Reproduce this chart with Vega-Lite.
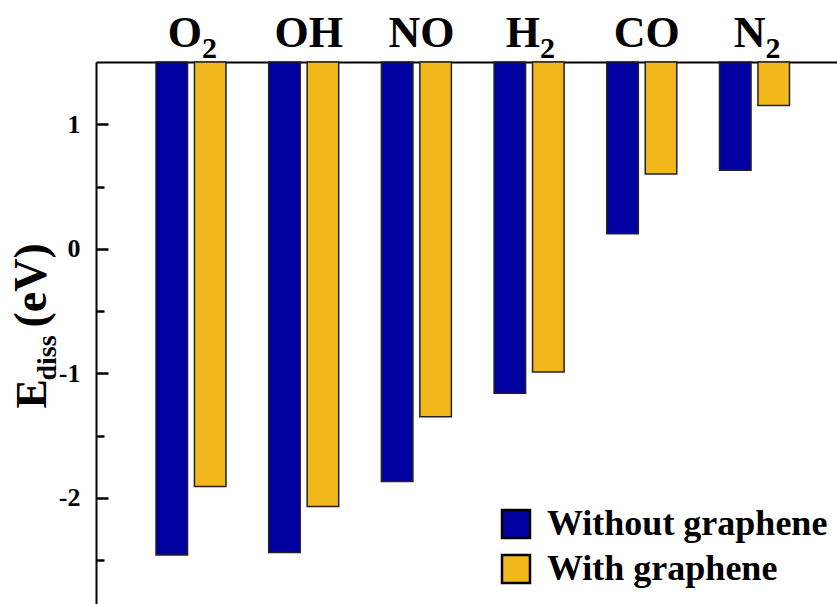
{
  "$schema": "https://vega.github.io/schema/vega-lite/v6.json",
  "width": 741,
  "height": 542,
  "autosize": {"type": "none"},
  "padding": {"left": 96, "top": 62, "right": 0, "bottom": 0},
  "background": "white",
  "config": {"view": {"stroke": null}, "font": "Liberation Serif"},
  "data": {
    "values": [
      {"molecule": "O₂", "condition": "Without graphene", "ediss": -2.46},
      {"molecule": "O₂", "condition": "With graphene", "ediss": -1.91},
      {"molecule": "OH", "condition": "Without graphene", "ediss": -2.44},
      {"molecule": "OH", "condition": "With graphene", "ediss": -2.07},
      {"molecule": "NO", "condition": "Without graphene", "ediss": -1.87},
      {"molecule": "NO", "condition": "With graphene", "ediss": -1.35},
      {"molecule": "H₂", "condition": "Without graphene", "ediss": -1.16},
      {"molecule": "H₂", "condition": "With graphene", "ediss": -0.99},
      {"molecule": "CO", "condition": "Without graphene", "ediss": 0.12},
      {"molecule": "CO", "condition": "With graphene", "ediss": 0.6},
      {"molecule": "N₂", "condition": "Without graphene", "ediss": 0.63},
      {"molecule": "N₂", "condition": "With graphene", "ediss": 1.15}
    ]
  },
  "resolve": {"axis": {"x": "independent", "y": "independent"}},
  "layer": [
    {
      "mark": {"type": "bar", "stroke": "#222222", "strokeWidth": 1.5},
      "encoding": {
        "x": {
          "field": "molecule",
          "type": "nominal",
          "sort": null,
          "scale": {"paddingInner": 0.379, "paddingOuter": 0.477, "align": 0.558},
          "axis": {
            "orient": "top",
            "title": null,
            "domain": true,
            "domainColor": "black",
            "domainWidth": 2,
            "ticks": false,
            "labelAngle": 0,
            "labelFont": "Liberation Serif",
            "labelFontSize": 44,
            "labelFontWeight": "bold",
            "labelColor": "black",
            "labelBaseline": "alphabetic",
            "labelPadding": 16,
            "labelExpr": "datum.label == 'O₂' ? 'O' : datum.label == 'H₂' ? 'H' : datum.label == 'N₂' ? 'N' : datum.label",
            "labelAlign": {"condition": {"test": "datum.value == 'O₂' || datum.value == 'H₂' || datum.value == 'N₂'", "value": "right"}, "value": "center"},
            "labelOffset": {"condition": {"test": "datum.value == 'O₂' || datum.value == 'H₂' || datum.value == 'N₂'", "value": 11}, "value": 5}
          }
        },
        "xOffset": {
          "field": "condition",
          "type": "nominal",
          "sort": ["Without graphene", "With graphene"],
          "scale": {"paddingInner": 0.18, "paddingOuter": 0}
        },
        "y": {
          "field": "ediss",
          "type": "quantitative",
          "scale": {"domain": [-2.853, 1.5], "nice": false, "zero": false},
          "axis": {
            "orient": "left",
            "grid": false,
            "domain": true,
            "domainColor": "black",
            "domainWidth": 2,
            "values": [-2, -1, 0, 1],
            "ticks": false,
            "labelExpr": "'' + datum.value",
            "labelFont": "Liberation Serif",
            "labelFontSize": 26,
            "labelFontWeight": "bold",
            "labelColor": "black",
            "labelPadding": 16,
            "title": "E",
            "titleFont": "Liberation Serif",
            "titleFontSize": 44,
            "titleFontWeight": "bold",
            "titleColor": "black",
            "titleAngle": -90,
            "titleAlign": "left",
            "titleBaseline": "alphabetic",
            "titleX": -51,
            "titleY": 346
          }
        },
        "y2": {"datum": 1.5},
        "color": {
          "field": "condition",
          "type": "nominal",
          "scale": {"domain": ["Without graphene", "With graphene"], "range": ["#0000a0", "#f2b71b"]},
          "legend": {
            "orient": "none",
            "legendX": 402,
            "legendY": 444,
            "title": null,
            "symbolType": "square",
            "symbolSize": 784,
            "symbolStrokeColor": "black",
            "symbolStrokeWidth": 2.5,
            "symbolOpacity": 1,
            "labelFont": "Liberation Serif",
            "labelFontSize": 36,
            "labelFontWeight": "bold",
            "labelColor": "black",
            "labelLimit": 0,
            "labelOffset": 13,
            "rowPadding": 7
          }
        }
      }
    },
    {
      "mark": {"type": "bar", "opacity": 0},
      "encoding": {
        "x": {
          "field": "molecule",
          "type": "nominal",
          "sort": null,
          "axis": {
            "orient": "top",
            "title": null,
            "domain": false,
            "ticks": false,
            "labelAngle": 0,
            "labelFont": "Liberation Serif",
            "labelFontSize": 30,
            "labelFontWeight": "bold",
            "labelColor": "black",
            "labelBaseline": "alphabetic",
            "labelPadding": 5,
            "labelAlign": "left",
            "labelOffset": 11,
            "labelExpr": "(datum.label == 'O₂' || datum.label == 'H₂' || datum.label == 'N₂') ? '2' : ''"
          }
        },
        "y": {
          "field": "ediss",
          "type": "quantitative",
          "axis": {
            "orient": "right",
            "offset": -741,
            "grid": false,
            "domain": false,
            "values": [-2, -1, 0, 1],
            "ticks": true,
            "tickColor": "black",
            "tickWidth": 2.5,
            "tickSize": 12,
            "labels": false,
            "title": "diss",
            "titleFont": "Liberation Serif",
            "titleFontSize": 28,
            "titleFontWeight": "bold",
            "titleColor": "black",
            "titleAngle": -90,
            "titleAlign": "left",
            "titleBaseline": "alphabetic",
            "titleX": -41,
            "titleY": 318
          }
        }
      }
    },
    {
      "mark": {"type": "bar", "opacity": 0},
      "encoding": {
        "x": {"field": "molecule", "type": "nominal", "sort": null, "axis": null},
        "y": {
          "field": "ediss",
          "type": "quantitative",
          "axis": {
            "orient": "right",
            "offset": -741,
            "grid": false,
            "domain": false,
            "values": [-2.5, -1.5, -0.5, 0.5],
            "ticks": true,
            "tickColor": "black",
            "tickWidth": 2.5,
            "tickSize": 8,
            "labels": false,
            "title": "(eV)",
            "titleFont": "Liberation Serif",
            "titleFontSize": 46,
            "titleFontWeight": "bold",
            "titleColor": "black",
            "titleAngle": -90,
            "titleAlign": "left",
            "titleBaseline": "alphabetic",
            "titleX": -51,
            "titleY": 265
          }
        }
      }
    }
  ]
}
